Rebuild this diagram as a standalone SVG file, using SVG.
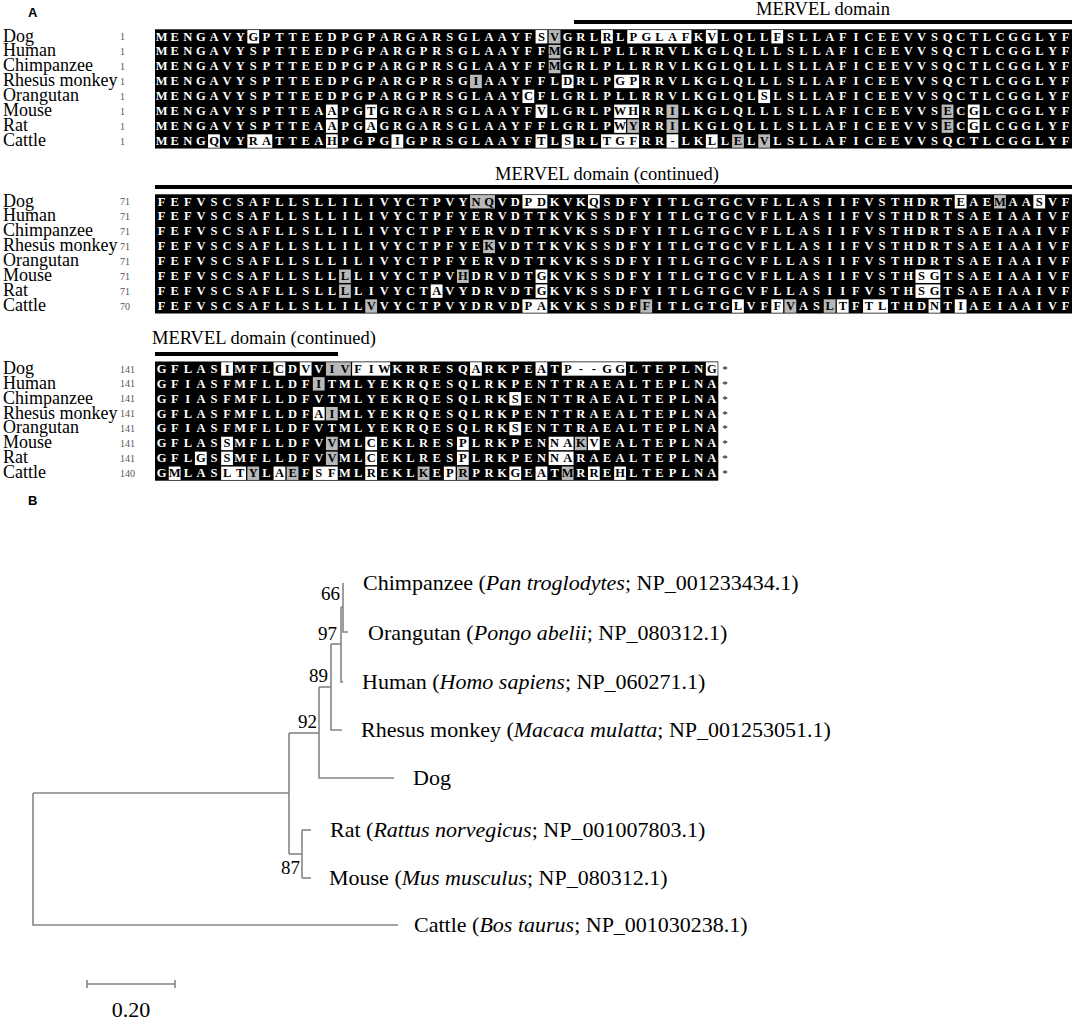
<svg xmlns="http://www.w3.org/2000/svg" width="1074" height="1022" viewBox="0 0 1074 1022">
<style>
.sp{font-family:"Liberation Serif",serif;font-size:18px;fill:#000}
.nm{font-family:"Liberation Serif",serif;font-size:10px;fill:#555}
.rs{font-family:"Liberation Serif",serif;font-size:12.5px;font-weight:bold;fill:#fff;text-anchor:middle}
.rs .k{fill:#000}
.w{fill:#fff}.g{fill:#b8b8b8}
.dl{font-family:"Liberation Serif",serif;font-size:18.5px;fill:#000}
.st{font-family:"Liberation Serif",serif;font-size:11px;fill:#000;text-anchor:middle}
.br{stroke:#858585;stroke-width:1.6;fill:none}
.tx{font-family:"Liberation Serif",serif;font-size:22px;fill:#000}
.bs{font-family:"Liberation Serif",serif;font-size:19px;fill:#000;text-anchor:end}
.pl{font-family:"Liberation Sans",sans-serif;font-size:13px;font-weight:bold;fill:#000}
</style>
<rect width="1074" height="1022" fill="#fff"/>
<text class="pl" x="28" y="17">A</text>
<text class="pl" x="28" y="505">B</text>

<!-- Block 1 -->
<g id="block1">
<text class="dl" x="823" y="15" text-anchor="middle">MERVEL domain</text>
<rect x="574" y="20" width="498" height="4" fill="#000"/>
<g transform="translate(155 29.3)">
<g class="sp"><text x="-152" y="12.3">Dog</text><text x="-152" y="27.2">Human</text><text x="-152" y="42.1">Chimpanzee</text><text x="-152" y="57">Rhesus monkey</text><text x="-152" y="71.9">Orangutan</text><text x="-152" y="86.8">Mouse</text><text x="-152" y="101.7">Rat</text><text x="-152" y="116.6">Cattle</text></g>
<g class="nm"><text x="-35" y="11">1</text><text x="-35" y="25.9">1</text><text x="-35" y="40.8">1</text><text x="-35" y="55.7">1</text><text x="-35" y="70.6">1</text><text x="-35" y="85.5">1</text><text x="-35" y="100.4">1</text><text x="-35" y="115.3">1</text></g>
<g transform="scale(13.1 14.9)">
<rect width="70" height="8" fill="#000"/>
<rect class="w" x="7.05" y="0.05" width="0.9" height="0.9"/><rect class="w" x="29.05" y="0.05" width="0.9" height="0.9"/><rect class="g" x="30.05" y="0.05" width="0.9" height="0.9"/><rect class="w" x="34.05" y="0.05" width="0.9" height="0.9"/><rect class="w" x="36.05" y="0.05" width="4.9" height="0.9"/><rect class="w" x="42.05" y="0.05" width="0.9" height="0.9"/><rect class="w" x="47.05" y="0.05" width="0.9" height="0.9"/>
<rect class="g" x="30.05" y="1.05" width="0.9" height="0.9"/>
<rect class="g" x="30.05" y="2.05" width="0.9" height="0.9"/>
<rect class="g" x="24.05" y="3.05" width="0.9" height="0.9"/><rect class="w" x="31.05" y="3.05" width="0.9" height="0.9"/><rect class="w" x="35.05" y="3.05" width="1.9" height="0.9"/>
<rect class="w" x="28.05" y="4.05" width="0.9" height="0.9"/><rect class="w" x="46.05" y="4.05" width="0.9" height="0.9"/>
<rect class="w" x="13.05" y="5.05" width="0.9" height="0.9"/><rect class="w" x="16.05" y="5.05" width="0.9" height="0.9"/><rect class="w" x="29.05" y="5.05" width="0.9" height="0.9"/><rect class="w" x="35.05" y="5.05" width="1.9" height="0.9"/><rect class="g" x="39.05" y="5.05" width="0.9" height="0.9"/><rect class="g" x="60.05" y="5.05" width="0.9" height="0.9"/><rect class="w" x="62.05" y="5.05" width="0.9" height="0.9"/>
<rect class="w" x="13.05" y="6.05" width="0.9" height="0.9"/><rect class="w" x="16.05" y="6.05" width="0.9" height="0.9"/><rect class="w" x="35.05" y="6.05" width="0.9" height="0.9"/><rect class="g" x="36.05" y="6.05" width="0.9" height="0.9"/><rect class="g" x="39.05" y="6.05" width="0.9" height="0.9"/><rect class="g" x="60.05" y="6.05" width="0.9" height="0.9"/><rect class="w" x="62.05" y="6.05" width="0.9" height="0.9"/>
<rect class="w" x="4.05" y="7.05" width="0.9" height="0.9"/><rect class="w" x="7.05" y="7.05" width="1.9" height="0.9"/><rect class="w" x="13.05" y="7.05" width="0.9" height="0.9"/><rect class="w" x="18.05" y="7.05" width="0.9" height="0.9"/><rect class="w" x="29.05" y="7.05" width="0.9" height="0.9"/><rect class="w" x="31.05" y="7.05" width="0.9" height="0.9"/><rect class="w" x="34.05" y="7.05" width="2.9" height="0.9"/><rect class="w" x="39.05" y="7.05" width="0.9" height="0.9"/><rect class="w" x="42.05" y="7.05" width="0.9" height="0.9"/><rect class="g" x="44.05" y="7.05" width="0.9" height="0.9"/><rect class="g" x="46.05" y="7.05" width="0.9" height="0.9"/>
</g>
<g class="rs">
<text y="11.3" x="6.6 19.7 32.8 45.9 59 72.1 85.2 98.3 111.4 124.5 137.6 150.7 163.8 176.9 190 203.1 216.2 229.3 242.4 255.5 268.6 281.7 294.8 307.9 321 334.1 347.2 360.3 373.4 386.5 399.6 412.7 425.8 438.9 452 465.1 478.2 491.3 504.4 517.5 530.6 543.7 556.8 569.9 583 596.1 609.2 622.3 635.4 648.5 661.6 674.7 687.8 700.9 714 727.1 740.2 753.3 766.4 779.5 792.6 805.7 818.8 831.9 845 858.1 871.2 884.3 897.4 910.5">MENGAVY<tspan class="k">G</tspan>PTTEEDPGPARGARSGLAAYF<tspan class="k">SV</tspan>GRL<tspan class="k">R</tspan>L<tspan class="k">PGLAF</tspan>K<tspan class="k">V</tspan>LQLL<tspan class="k">F</tspan>SLLAFICEEVVSQCTLCGGLYF</text>
<text y="26.2" x="6.6 19.7 32.8 45.9 59 72.1 85.2 98.3 111.4 124.5 137.6 150.7 163.8 176.9 190 203.1 216.2 229.3 242.4 255.5 268.6 281.7 294.8 307.9 321 334.1 347.2 360.3 373.4 386.5 399.6 412.7 425.8 438.9 452 465.1 478.2 491.3 504.4 517.5 530.6 543.7 556.8 569.9 583 596.1 609.2 622.3 635.4 648.5 661.6 674.7 687.8 700.9 714 727.1 740.2 753.3 766.4 779.5 792.6 805.7 818.8 831.9 845 858.1 871.2 884.3 897.4 910.5">MENGAVYSPTTEEDPGPARGPRSGLAAYFF<tspan class="k">M</tspan>GRLPLLRRVLKGLQLLLSLLAFICEEVVSQCTLCGGLYF</text>
<text y="41.1" x="6.6 19.7 32.8 45.9 59 72.1 85.2 98.3 111.4 124.5 137.6 150.7 163.8 176.9 190 203.1 216.2 229.3 242.4 255.5 268.6 281.7 294.8 307.9 321 334.1 347.2 360.3 373.4 386.5 399.6 412.7 425.8 438.9 452 465.1 478.2 491.3 504.4 517.5 530.6 543.7 556.8 569.9 583 596.1 609.2 622.3 635.4 648.5 661.6 674.7 687.8 700.9 714 727.1 740.2 753.3 766.4 779.5 792.6 805.7 818.8 831.9 845 858.1 871.2 884.3 897.4 910.5">MENGAVYSPTTEEDPGPARGPRSGLAAYFF<tspan class="k">M</tspan>GRLPLLRRVLKGLQLLLSLLAFICEEVVSQCTLCGGLYF</text>
<text y="56" x="6.6 19.7 32.8 45.9 59 72.1 85.2 98.3 111.4 124.5 137.6 150.7 163.8 176.9 190 203.1 216.2 229.3 242.4 255.5 268.6 281.7 294.8 307.9 321 334.1 347.2 360.3 373.4 386.5 399.6 412.7 425.8 438.9 452 465.1 478.2 491.3 504.4 517.5 530.6 543.7 556.8 569.9 583 596.1 609.2 622.3 635.4 648.5 661.6 674.7 687.8 700.9 714 727.1 740.2 753.3 766.4 779.5 792.6 805.7 818.8 831.9 845 858.1 871.2 884.3 897.4 910.5">MENGAVYSPTTEEDPGPARGPRSG<tspan class="k">I</tspan>AAYFFL<tspan class="k">D</tspan>RLP<tspan class="k">GP</tspan>RRVLKGLQLLLSLLAFICEEVVSQCTLCGGLYF</text>
<text y="70.9" x="6.6 19.7 32.8 45.9 59 72.1 85.2 98.3 111.4 124.5 137.6 150.7 163.8 176.9 190 203.1 216.2 229.3 242.4 255.5 268.6 281.7 294.8 307.9 321 334.1 347.2 360.3 373.4 386.5 399.6 412.7 425.8 438.9 452 465.1 478.2 491.3 504.4 517.5 530.6 543.7 556.8 569.9 583 596.1 609.2 622.3 635.4 648.5 661.6 674.7 687.8 700.9 714 727.1 740.2 753.3 766.4 779.5 792.6 805.7 818.8 831.9 845 858.1 871.2 884.3 897.4 910.5">MENGAVYSPTTEEDPGPARGPRSGLAAY<tspan class="k">C</tspan>FLGRLPLLRRVLKGLQL<tspan class="k">S</tspan>LSLLAFICEEVVSQCTLCGGLYF</text>
<text y="85.8" x="6.6 19.7 32.8 45.9 59 72.1 85.2 98.3 111.4 124.5 137.6 150.7 163.8 176.9 190 203.1 216.2 229.3 242.4 255.5 268.6 281.7 294.8 307.9 321 334.1 347.2 360.3 373.4 386.5 399.6 412.7 425.8 438.9 452 465.1 478.2 491.3 504.4 517.5 530.6 543.7 556.8 569.9 583 596.1 609.2 622.3 635.4 648.5 661.6 674.7 687.8 700.9 714 727.1 740.2 753.3 766.4 779.5 792.6 805.7 818.8 831.9 845 858.1 871.2 884.3 897.4 910.5">MENGAVYSPTTEA<tspan class="k">A</tspan>PG<tspan class="k">T</tspan>GRGARSGLAAYF<tspan class="k">V</tspan>LGRLP<tspan class="k">WH</tspan>RR<tspan class="k">I</tspan>LKGLQLLLSLLAFICEEVVS<tspan class="k">E</tspan>C<tspan class="k">G</tspan>LCGGLYF</text>
<text y="100.7" x="6.6 19.7 32.8 45.9 59 72.1 85.2 98.3 111.4 124.5 137.6 150.7 163.8 176.9 190 203.1 216.2 229.3 242.4 255.5 268.6 281.7 294.8 307.9 321 334.1 347.2 360.3 373.4 386.5 399.6 412.7 425.8 438.9 452 465.1 478.2 491.3 504.4 517.5 530.6 543.7 556.8 569.9 583 596.1 609.2 622.3 635.4 648.5 661.6 674.7 687.8 700.9 714 727.1 740.2 753.3 766.4 779.5 792.6 805.7 818.8 831.9 845 858.1 871.2 884.3 897.4 910.5">MENGAVYSPTTEA<tspan class="k">A</tspan>PG<tspan class="k">A</tspan>GRGARSGLAAYFFLGRLP<tspan class="k">WY</tspan>RR<tspan class="k">I</tspan>LKGLQLLLSLLAFICEEVVS<tspan class="k">E</tspan>C<tspan class="k">G</tspan>LCGGLYF</text>
<text y="115.6" x="6.6 19.7 32.8 45.9 59 72.1 85.2 98.3 111.4 124.5 137.6 150.7 163.8 176.9 190 203.1 216.2 229.3 242.4 255.5 268.6 281.7 294.8 307.9 321 334.1 347.2 360.3 373.4 386.5 399.6 412.7 425.8 438.9 452 465.1 478.2 491.3 504.4 517.5 530.6 543.7 556.8 569.9 583 596.1 609.2 622.3 635.4 648.5 661.6 674.7 687.8 700.9 714 727.1 740.2 753.3 766.4 779.5 792.6 805.7 818.8 831.9 845 858.1 871.2 884.3 897.4 910.5">MENG<tspan class="k">Q</tspan>VY<tspan class="k">RA</tspan>TTEA<tspan class="k">H</tspan>PGPG<tspan class="k">I</tspan>GPRSGLAAYF<tspan class="k">T</tspan>L<tspan class="k">S</tspan>RL<tspan class="k">TGF</tspan>RR<tspan class="k">-</tspan>LK<tspan class="k">L</tspan>L<tspan class="k">E</tspan>L<tspan class="k">V</tspan>LSLLAFICEEVVSQCTLCGGLYF</text>
</g>
</g>
</g>

<!-- Block 2 -->
<g id="block2">
<text class="dl" x="607" y="180" text-anchor="middle">MERVEL domain (continued)</text>
<rect x="155" y="185" width="917" height="4" fill="#000"/>
<g transform="translate(155 194.3)">
<g class="sp"><text x="-152" y="12.3">Dog</text><text x="-152" y="27.2">Human</text><text x="-152" y="42.1">Chimpanzee</text><text x="-152" y="57">Rhesus monkey</text><text x="-152" y="71.9">Orangutan</text><text x="-152" y="86.8">Mouse</text><text x="-152" y="101.7">Rat</text><text x="-152" y="116.6">Cattle</text></g>
<g class="nm"><text x="-35" y="11">71</text><text x="-35" y="25.9">71</text><text x="-35" y="40.8">71</text><text x="-35" y="55.7">71</text><text x="-35" y="70.6">71</text><text x="-35" y="85.5">71</text><text x="-35" y="100.4">71</text><text x="-35" y="115.3">70</text></g>
<g transform="scale(13.1 14.9)">
<rect width="70" height="8" fill="#000"/>
<rect class="g" x="24.05" y="0.05" width="1.9" height="0.9"/><rect class="w" x="28.05" y="0.05" width="1.9" height="0.9"/><rect class="w" x="33.05" y="0.05" width="0.9" height="0.9"/><rect class="w" x="61.05" y="0.05" width="0.9" height="0.9"/><rect class="g" x="64.05" y="0.05" width="0.9" height="0.9"/><rect class="w" x="67.05" y="0.05" width="0.9" height="0.9"/>
<rect class="g" x="25.05" y="3.05" width="0.9" height="0.9"/>
<rect class="g" x="14.05" y="5.05" width="0.9" height="0.9"/><rect class="g" x="23.05" y="5.05" width="0.9" height="0.9"/><rect class="w" x="29.05" y="5.05" width="0.9" height="0.9"/><rect class="w" x="58.05" y="5.05" width="1.9" height="0.9"/>
<rect class="g" x="14.05" y="6.05" width="0.9" height="0.9"/><rect class="w" x="21.05" y="6.05" width="0.9" height="0.9"/><rect class="w" x="29.05" y="6.05" width="0.9" height="0.9"/><rect class="w" x="58.05" y="6.05" width="1.9" height="0.9"/>
<rect class="g" x="16.05" y="7.05" width="0.9" height="0.9"/><rect class="w" x="28.05" y="7.05" width="1.9" height="0.9"/><rect class="g" x="37.05" y="7.05" width="0.9" height="0.9"/><rect class="w" x="44.05" y="7.05" width="0.9" height="0.9"/><rect class="w" x="47.05" y="7.05" width="0.9" height="0.9"/><rect class="g" x="48.05" y="7.05" width="0.9" height="0.9"/><rect class="g" x="51.05" y="7.05" width="0.9" height="0.9"/><rect class="w" x="52.05" y="7.05" width="0.9" height="0.9"/><rect class="w" x="54.05" y="7.05" width="1.9" height="0.9"/><rect class="w" x="59.05" y="7.05" width="0.9" height="0.9"/><rect class="w" x="61.05" y="7.05" width="0.9" height="0.9"/>
</g>
<g class="rs">
<text y="11.3" x="6.6 19.7 32.8 45.9 59 72.1 85.2 98.3 111.4 124.5 137.6 150.7 163.8 176.9 190 203.1 216.2 229.3 242.4 255.5 268.6 281.7 294.8 307.9 321 334.1 347.2 360.3 373.4 386.5 399.6 412.7 425.8 438.9 452 465.1 478.2 491.3 504.4 517.5 530.6 543.7 556.8 569.9 583 596.1 609.2 622.3 635.4 648.5 661.6 674.7 687.8 700.9 714 727.1 740.2 753.3 766.4 779.5 792.6 805.7 818.8 831.9 845 858.1 871.2 884.3 897.4 910.5">FEFVSCSAFLLSLLILIVYCTPVY<tspan class="k">NQ</tspan>VD<tspan class="k">PD</tspan>KVK<tspan class="k">Q</tspan>SDFYITLGTGCVFLLASIIFVSTHDRT<tspan class="k">E</tspan>AE<tspan class="k">M</tspan>AA<tspan class="k">S</tspan>VF</text>
<text y="26.2" x="6.6 19.7 32.8 45.9 59 72.1 85.2 98.3 111.4 124.5 137.6 150.7 163.8 176.9 190 203.1 216.2 229.3 242.4 255.5 268.6 281.7 294.8 307.9 321 334.1 347.2 360.3 373.4 386.5 399.6 412.7 425.8 438.9 452 465.1 478.2 491.3 504.4 517.5 530.6 543.7 556.8 569.9 583 596.1 609.2 622.3 635.4 648.5 661.6 674.7 687.8 700.9 714 727.1 740.2 753.3 766.4 779.5 792.6 805.7 818.8 831.9 845 858.1 871.2 884.3 897.4 910.5">FEFVSCSAFLLSLLILIVYCTPFYERVDTTKVKSSDFYITLGTGCVFLLASIIFVSTHDRTSAEIAAIVF</text>
<text y="41.1" x="6.6 19.7 32.8 45.9 59 72.1 85.2 98.3 111.4 124.5 137.6 150.7 163.8 176.9 190 203.1 216.2 229.3 242.4 255.5 268.6 281.7 294.8 307.9 321 334.1 347.2 360.3 373.4 386.5 399.6 412.7 425.8 438.9 452 465.1 478.2 491.3 504.4 517.5 530.6 543.7 556.8 569.9 583 596.1 609.2 622.3 635.4 648.5 661.6 674.7 687.8 700.9 714 727.1 740.2 753.3 766.4 779.5 792.6 805.7 818.8 831.9 845 858.1 871.2 884.3 897.4 910.5">FEFVSCSAFLLSLLILIVYCTPFYERVDTTKVKSSDFYITLGTGCVFLLASIIFVSTHDRTSAEIAAIVF</text>
<text y="56" x="6.6 19.7 32.8 45.9 59 72.1 85.2 98.3 111.4 124.5 137.6 150.7 163.8 176.9 190 203.1 216.2 229.3 242.4 255.5 268.6 281.7 294.8 307.9 321 334.1 347.2 360.3 373.4 386.5 399.6 412.7 425.8 438.9 452 465.1 478.2 491.3 504.4 517.5 530.6 543.7 556.8 569.9 583 596.1 609.2 622.3 635.4 648.5 661.6 674.7 687.8 700.9 714 727.1 740.2 753.3 766.4 779.5 792.6 805.7 818.8 831.9 845 858.1 871.2 884.3 897.4 910.5">FEFVSCSAFLLSLLILIVYCTPFYE<tspan class="k">K</tspan>VDTTKVKSSDFYITLGTGCVFLLASIIFVSTHDRTSAEIAAIVF</text>
<text y="70.9" x="6.6 19.7 32.8 45.9 59 72.1 85.2 98.3 111.4 124.5 137.6 150.7 163.8 176.9 190 203.1 216.2 229.3 242.4 255.5 268.6 281.7 294.8 307.9 321 334.1 347.2 360.3 373.4 386.5 399.6 412.7 425.8 438.9 452 465.1 478.2 491.3 504.4 517.5 530.6 543.7 556.8 569.9 583 596.1 609.2 622.3 635.4 648.5 661.6 674.7 687.8 700.9 714 727.1 740.2 753.3 766.4 779.5 792.6 805.7 818.8 831.9 845 858.1 871.2 884.3 897.4 910.5">FEFVSCSAFLLSLLILIVYCTPFYERVDTTKVKSSDFYITLGTGCVFLLASIIFVSTHDRTSAEIAAIVF</text>
<text y="85.8" x="6.6 19.7 32.8 45.9 59 72.1 85.2 98.3 111.4 124.5 137.6 150.7 163.8 176.9 190 203.1 216.2 229.3 242.4 255.5 268.6 281.7 294.8 307.9 321 334.1 347.2 360.3 373.4 386.5 399.6 412.7 425.8 438.9 452 465.1 478.2 491.3 504.4 517.5 530.6 543.7 556.8 569.9 583 596.1 609.2 622.3 635.4 648.5 661.6 674.7 687.8 700.9 714 727.1 740.2 753.3 766.4 779.5 792.6 805.7 818.8 831.9 845 858.1 871.2 884.3 897.4 910.5">FEFVSCSAFLLSLL<tspan class="k">L</tspan>LIVYCTPV<tspan class="k">H</tspan>DRVDT<tspan class="k">G</tspan>KVKSSDFYITLGTGCVFLLASIIFVSTH<tspan class="k">SG</tspan>TSAEIAAIVF</text>
<text y="100.7" x="6.6 19.7 32.8 45.9 59 72.1 85.2 98.3 111.4 124.5 137.6 150.7 163.8 176.9 190 203.1 216.2 229.3 242.4 255.5 268.6 281.7 294.8 307.9 321 334.1 347.2 360.3 373.4 386.5 399.6 412.7 425.8 438.9 452 465.1 478.2 491.3 504.4 517.5 530.6 543.7 556.8 569.9 583 596.1 609.2 622.3 635.4 648.5 661.6 674.7 687.8 700.9 714 727.1 740.2 753.3 766.4 779.5 792.6 805.7 818.8 831.9 845 858.1 871.2 884.3 897.4 910.5">FEFVSCSAFLLSLL<tspan class="k">L</tspan>LIVYCT<tspan class="k">A</tspan>VYDRVDT<tspan class="k">G</tspan>KVKSSDFYITLGTGCVFLLASIIFVSTH<tspan class="k">SG</tspan>TSAEIAAIVF</text>
<text y="115.6" x="6.6 19.7 32.8 45.9 59 72.1 85.2 98.3 111.4 124.5 137.6 150.7 163.8 176.9 190 203.1 216.2 229.3 242.4 255.5 268.6 281.7 294.8 307.9 321 334.1 347.2 360.3 373.4 386.5 399.6 412.7 425.8 438.9 452 465.1 478.2 491.3 504.4 517.5 530.6 543.7 556.8 569.9 583 596.1 609.2 622.3 635.4 648.5 661.6 674.7 687.8 700.9 714 727.1 740.2 753.3 766.4 779.5 792.6 805.7 818.8 831.9 845 858.1 871.2 884.3 897.4 910.5">FEFVSCSAFLLSLLIL<tspan class="k">V</tspan>VYCTPVYDRVD<tspan class="k">PA</tspan>KVKSSDF<tspan class="k">F</tspan>ITLGTG<tspan class="k">L</tspan>VF<tspan class="k">FV</tspan>AS<tspan class="k">LT</tspan>F<tspan class="k">TL</tspan>THD<tspan class="k">N</tspan>T<tspan class="k">I</tspan>AEIAAIVF</text>
</g>
</g>
</g>

<!-- Block 3 -->
<g id="block3">
<text class="dl" x="152" y="344">MERVEL domain (continued)</text>
<rect x="155" y="352" width="183" height="4" fill="#000"/>
<g transform="translate(155 361.5)">
<g class="sp"><text x="-152" y="12.3">Dog</text><text x="-152" y="27.2">Human</text><text x="-152" y="42.1">Chimpanzee</text><text x="-152" y="57">Rhesus monkey</text><text x="-152" y="71.9">Orangutan</text><text x="-152" y="86.8">Mouse</text><text x="-152" y="101.7">Rat</text><text x="-152" y="116.6">Cattle</text></g>
<g class="nm"><text x="-35" y="11">141</text><text x="-35" y="25.9">141</text><text x="-35" y="40.8">141</text><text x="-35" y="55.7">141</text><text x="-35" y="70.6">141</text><text x="-35" y="85.5">141</text><text x="-35" y="100.4">141</text><text x="-35" y="115.3">140</text></g>
<g transform="scale(13.1 14.9)">
<rect width="43" height="8" fill="#000"/>
<rect class="w" x="5.05" y="0.05" width="0.9" height="0.9"/><rect class="w" x="9.05" y="0.05" width="0.9" height="0.9"/><rect class="w" x="11.05" y="0.05" width="0.9" height="0.9"/><rect class="g" x="13.05" y="0.05" width="1.9" height="0.9"/><rect class="w" x="15.05" y="0.05" width="2.9" height="0.9"/><rect class="w" x="24.05" y="0.05" width="0.9" height="0.9"/><rect class="w" x="29.05" y="0.05" width="0.9" height="0.9"/><rect class="w" x="31.05" y="0.05" width="4.9" height="0.9"/><rect class="w" x="42.05" y="0.05" width="0.9" height="0.9"/>
<rect class="g" x="12.05" y="1.05" width="0.9" height="0.9"/>
<rect class="w" x="27.05" y="2.05" width="0.9" height="0.9"/>
<rect class="w" x="12.05" y="3.05" width="0.9" height="0.9"/><rect class="g" x="13.05" y="3.05" width="0.9" height="0.9"/>
<rect class="w" x="27.05" y="4.05" width="0.9" height="0.9"/>
<rect class="w" x="5.05" y="5.05" width="0.9" height="0.9"/><rect class="g" x="13.05" y="5.05" width="0.9" height="0.9"/><rect class="w" x="16.05" y="5.05" width="0.9" height="0.9"/><rect class="w" x="23.05" y="5.05" width="0.9" height="0.9"/><rect class="w" x="30.05" y="5.05" width="1.9" height="0.9"/><rect class="g" x="32.05" y="5.05" width="0.9" height="0.9"/><rect class="w" x="33.05" y="5.05" width="0.9" height="0.9"/>
<rect class="w" x="3.05" y="6.05" width="0.9" height="0.9"/><rect class="w" x="5.05" y="6.05" width="0.9" height="0.9"/><rect class="g" x="13.05" y="6.05" width="0.9" height="0.9"/><rect class="w" x="16.05" y="6.05" width="0.9" height="0.9"/><rect class="w" x="23.05" y="6.05" width="0.9" height="0.9"/><rect class="w" x="30.05" y="6.05" width="1.9" height="0.9"/>
<rect class="w" x="1.05" y="7.05" width="0.9" height="0.9"/><rect class="w" x="5.05" y="7.05" width="1.9" height="0.9"/><rect class="g" x="7.05" y="7.05" width="0.9" height="0.9"/><rect class="w" x="9.05" y="7.05" width="0.9" height="0.9"/><rect class="g" x="10.05" y="7.05" width="0.9" height="0.9"/><rect class="w" x="12.05" y="7.05" width="1.9" height="0.9"/><rect class="w" x="16.05" y="7.05" width="0.9" height="0.9"/><rect class="g" x="20.05" y="7.05" width="0.9" height="0.9"/><rect class="w" x="22.05" y="7.05" width="0.9" height="0.9"/><rect class="g" x="23.05" y="7.05" width="0.9" height="0.9"/><rect class="w" x="27.05" y="7.05" width="0.9" height="0.9"/><rect class="w" x="29.05" y="7.05" width="0.9" height="0.9"/><rect class="g" x="31.05" y="7.05" width="0.9" height="0.9"/><rect class="w" x="33.05" y="7.05" width="0.9" height="0.9"/><rect class="w" x="35.05" y="7.05" width="0.9" height="0.9"/>
</g>
<g class="rs">
<text y="11.3" x="6.6 19.7 32.8 45.9 59 72.1 85.2 98.3 111.4 124.5 137.6 150.7 163.8 176.9 190 203.1 216.2 229.3 242.4 255.5 268.6 281.7 294.8 307.9 321 334.1 347.2 360.3 373.4 386.5 399.6 412.7 425.8 438.9 452 465.1 478.2 491.3 504.4 517.5 530.6 543.7 556.8">GFLAS<tspan class="k">I</tspan>MFL<tspan class="k">C</tspan>D<tspan class="k">V</tspan>V<tspan class="k">IVFIW</tspan>KRRESQ<tspan class="k">A</tspan>RKPE<tspan class="k">A</tspan>T<tspan class="k">P--GG</tspan>LTEPLN<tspan class="k">G</tspan></text>
<text y="26.2" x="6.6 19.7 32.8 45.9 59 72.1 85.2 98.3 111.4 124.5 137.6 150.7 163.8 176.9 190 203.1 216.2 229.3 242.4 255.5 268.6 281.7 294.8 307.9 321 334.1 347.2 360.3 373.4 386.5 399.6 412.7 425.8 438.9 452 465.1 478.2 491.3 504.4 517.5 530.6 543.7 556.8">GFIASFMFLLDF<tspan class="k">I</tspan>TMLYEKRQESQLRKPENTTRAEALTEPLNA</text>
<text y="41.1" x="6.6 19.7 32.8 45.9 59 72.1 85.2 98.3 111.4 124.5 137.6 150.7 163.8 176.9 190 203.1 216.2 229.3 242.4 255.5 268.6 281.7 294.8 307.9 321 334.1 347.2 360.3 373.4 386.5 399.6 412.7 425.8 438.9 452 465.1 478.2 491.3 504.4 517.5 530.6 543.7 556.8">GFIASFMFLLDFVTMLYEKRQESQLRK<tspan class="k">S</tspan>ENTTRAEALTEPLNA</text>
<text y="56" x="6.6 19.7 32.8 45.9 59 72.1 85.2 98.3 111.4 124.5 137.6 150.7 163.8 176.9 190 203.1 216.2 229.3 242.4 255.5 268.6 281.7 294.8 307.9 321 334.1 347.2 360.3 373.4 386.5 399.6 412.7 425.8 438.9 452 465.1 478.2 491.3 504.4 517.5 530.6 543.7 556.8">GFLASFMFLLDF<tspan class="k">AI</tspan>MLYEKRQESQLRKPENTTRAEALTEPLNA</text>
<text y="70.9" x="6.6 19.7 32.8 45.9 59 72.1 85.2 98.3 111.4 124.5 137.6 150.7 163.8 176.9 190 203.1 216.2 229.3 242.4 255.5 268.6 281.7 294.8 307.9 321 334.1 347.2 360.3 373.4 386.5 399.6 412.7 425.8 438.9 452 465.1 478.2 491.3 504.4 517.5 530.6 543.7 556.8">GFIASFMFLLDFVTMLYEKRQESQLRK<tspan class="k">S</tspan>ENTTRAEALTEPLNA</text>
<text y="85.8" x="6.6 19.7 32.8 45.9 59 72.1 85.2 98.3 111.4 124.5 137.6 150.7 163.8 176.9 190 203.1 216.2 229.3 242.4 255.5 268.6 281.7 294.8 307.9 321 334.1 347.2 360.3 373.4 386.5 399.6 412.7 425.8 438.9 452 465.1 478.2 491.3 504.4 517.5 530.6 543.7 556.8">GFLAS<tspan class="k">S</tspan>MFLLDFV<tspan class="k">V</tspan>ML<tspan class="k">C</tspan>EKLRES<tspan class="k">P</tspan>LRKPEN<tspan class="k">NAKV</tspan>EALTEPLNA</text>
<text y="100.7" x="6.6 19.7 32.8 45.9 59 72.1 85.2 98.3 111.4 124.5 137.6 150.7 163.8 176.9 190 203.1 216.2 229.3 242.4 255.5 268.6 281.7 294.8 307.9 321 334.1 347.2 360.3 373.4 386.5 399.6 412.7 425.8 438.9 452 465.1 478.2 491.3 504.4 517.5 530.6 543.7 556.8">GFL<tspan class="k">G</tspan>S<tspan class="k">S</tspan>MFLLDFV<tspan class="k">V</tspan>ML<tspan class="k">C</tspan>EKLRES<tspan class="k">P</tspan>LRKPEN<tspan class="k">NA</tspan>RAEALTEPLNA</text>
<text y="115.6" x="6.6 19.7 32.8 45.9 59 72.1 85.2 98.3 111.4 124.5 137.6 150.7 163.8 176.9 190 203.1 216.2 229.3 242.4 255.5 268.6 281.7 294.8 307.9 321 334.1 347.2 360.3 373.4 386.5 399.6 412.7 425.8 438.9 452 465.1 478.2 491.3 504.4 517.5 530.6 543.7 556.8">G<tspan class="k">M</tspan>LAS<tspan class="k">LTY</tspan>L<tspan class="k">AE</tspan>F<tspan class="k">SF</tspan>ML<tspan class="k">R</tspan>EKL<tspan class="k">K</tspan>E<tspan class="k">PR</tspan>PRK<tspan class="k">G</tspan>E<tspan class="k">A</tspan>T<tspan class="k">M</tspan>R<tspan class="k">R</tspan>E<tspan class="k">H</tspan>LTEPLNA</text>
</g>
<g class="st"><text x="569.9" y="11.3">*</text><text x="569.9" y="26.2">*</text><text x="569.9" y="41.1">*</text><text x="569.9" y="56">*</text><text x="569.9" y="70.9">*</text><text x="569.9" y="85.8">*</text><text x="569.9" y="100.7">*</text><text x="569.9" y="115.6">*</text></g>
</g>
</g>

<!-- Panel B: tree -->
<g id="connectors" class="br">
<path d="M33,793 V925 H398"/>
<path d="M33,793 H289"/>
<path d="M289,733 V854"/>
<path d="M289,733 H319"/>
<path d="M319,687 V778 H394"/>
<path d="M319,687 H331"/>
<path d="M331,644 V730 H342"/>
<path d="M331,644 H341"/>
<path d="M341,607 V682 H343"/>
<path d="M341,607 H343"/>
<path d="M343,583 V632 H348"/>
<path d="M289,854 H302"/>
<path d="M302,830 V878"/>
<path d="M302,830 H311"/>
<path d="M302,878 H311"/>
</g>
<g id="tip-chimpanzee"><text class="tx" x="363" y="590">Chimpanzee (<tspan font-style="italic">Pan troglodytes</tspan>; NP_001233434.1)</text></g>
<g id="tip-orangutan"><text class="tx" x="368" y="640">Orangutan (<tspan font-style="italic">Pongo abelii</tspan>; NP_080312.1)</text></g>
<g id="tip-human"><text class="tx" x="362" y="689">Human (<tspan font-style="italic">Homo sapiens</tspan>; NP_060271.1)</text></g>
<g id="tip-rhesus"><text class="tx" x="361" y="737">Rhesus monkey (<tspan font-style="italic">Macaca mulatta</tspan>; NP_001253051.1)</text></g>
<g id="tip-dog"><text class="tx" x="413" y="785">Dog</text></g>
<g id="tip-rat"><text class="tx" x="330" y="837">Rat (<tspan font-style="italic">Rattus norvegicus</tspan>; NP_001007803.1)</text></g>
<g id="tip-mouse"><text class="tx" x="329" y="885">Mouse (<tspan font-style="italic">Mus musculus</tspan>; NP_080312.1)</text></g>
<g id="tip-cattle"><text class="tx" x="414" y="932">Cattle (<tspan font-style="italic">Bos taurus</tspan>; NP_001030238.1)</text></g>
<g id="bootstrap" class="bs">
<text x="340" y="600">66</text>
<text x="337" y="640">97</text>
<text x="328" y="682">89</text>
<text x="317" y="728">92</text>
<text x="300" y="874">87</text>
</g>
<g id="scalebar">
<path class="br" d="M87,984 H175 M87,980 V988 M175,980 V988"/>
<text class="tx" x="131" y="1017" text-anchor="middle" font-size="20">0.20</text>
</g>
</svg>
